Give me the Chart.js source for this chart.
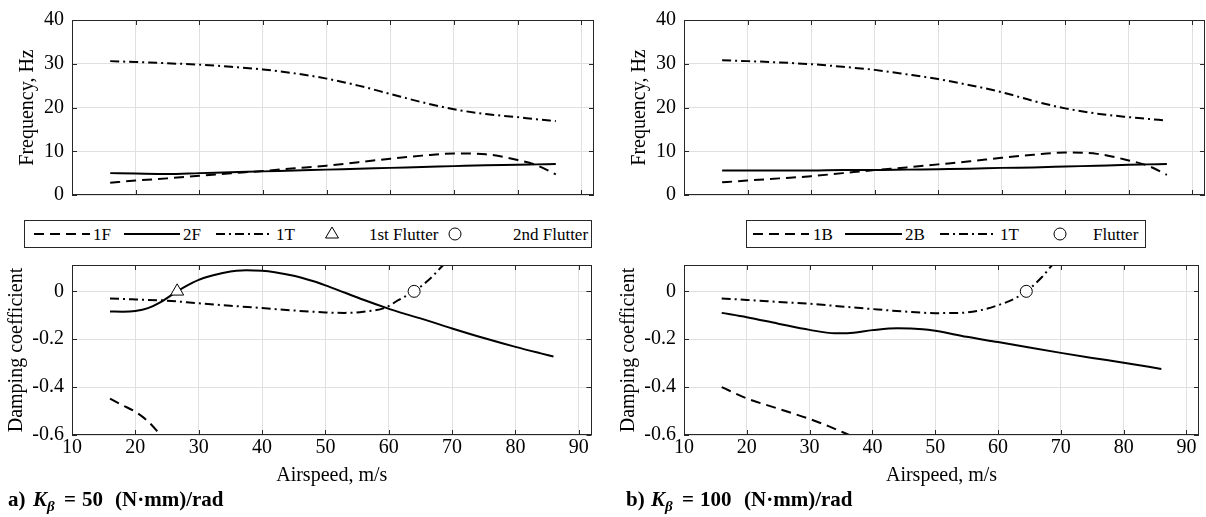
<!DOCTYPE html>
<html>
<head>
<meta charset="utf-8">
<script src="https://cdn.jsdelivr.net/npm/chart.js@4.4.1/dist/chart.umd.min.js"></script>
<style>
  body { margin: 0; background: #fff; width: 1206px; height: 517px; position: relative; overflow: hidden;
         font-family: 'Liberation Serif', 'Times New Roman', serif; color: #000; }
  canvas { position: absolute; }
  .legend { position: absolute; }
  .cap { position: absolute; top: 487px; font-size: 21px; line-height: 24px; font-weight: bold; white-space: pre; }
  .cap sub { font-size: 15px; }
</style>
</head>
<body>
<canvas id="freqA" width="600" height="215" style="left:0;top:0"></canvas>
<canvas id="dampA" width="600" height="245" style="left:0;top:245px"></canvas>
<canvas id="freqB" width="594" height="215" style="left:612px;top:0"></canvas>
<canvas id="dampB" width="594" height="245" style="left:612px;top:245px"></canvas>

<svg class="legend" style="left:24px;top:220px" width="568" height="28" font-family="'Liberation Serif', 'Times New Roman', serif">
  <rect x="0.5" y="0.5" width="567" height="27" fill="#fff" stroke="#262626"/>
  <line x1="10" y1="14" x2="66" y2="14" stroke="#000" stroke-width="2" stroke-dasharray="10,6"/>
  <text x="69" y="20" font-size="17">1F</text>
  <line x1="100" y1="14" x2="156" y2="14" stroke="#000" stroke-width="2"/>
  <text x="159" y="20" font-size="17">2F</text>
  <line x1="192" y1="14" x2="248" y2="14" stroke="#000" stroke-width="2" stroke-dasharray="9,4,2,4"/>
  <text x="252" y="20" font-size="17">1T</text>
  <polygon points="308,7 314.5,18 301.5,18" fill="#fff" stroke="#000"/>
  <text x="345" y="20" font-size="17">1st Flutter</text>
  <circle cx="431" cy="14" r="6" fill="#fff" stroke="#000"/>
  <text x="489" y="20" font-size="17">2nd Flutter</text>
</svg>

<svg class="legend" style="left:746px;top:220px" width="400" height="28" font-family="'Liberation Serif', 'Times New Roman', serif">
  <rect x="0.5" y="0.5" width="399" height="27" fill="#fff" stroke="#262626"/>
  <line x1="7" y1="14" x2="63" y2="14" stroke="#000" stroke-width="2" stroke-dasharray="10,6"/>
  <text x="67" y="20" font-size="17">1B</text>
  <line x1="99" y1="14" x2="156" y2="14" stroke="#000" stroke-width="2"/>
  <text x="159" y="20" font-size="17">2B</text>
  <line x1="194" y1="14" x2="250" y2="14" stroke="#000" stroke-width="2" stroke-dasharray="9,4,2,4"/>
  <text x="254" y="20" font-size="17">1T</text>
  <circle cx="314" cy="14" r="6" fill="#fff" stroke="#000"/>
  <text x="347" y="20" font-size="17">Flutter</text>
</svg>

<span class="cap" style="left:8px">a)</span>
<span class="cap" style="left:33px"><i>K<sub>β</sub></i></span>
<span class="cap" style="left:64px">=</span>
<span class="cap" style="left:82px">50</span>
<span class="cap" style="left:115px">(N·mm)/rad</span>

<span class="cap" style="left:626px">b)</span>
<span class="cap" style="left:651px"><i>K<sub>β</sub></i></span>
<span class="cap" style="left:682px">=</span>
<span class="cap" style="left:700px">100</span>
<span class="cap" style="left:744px">(N·mm)/rad</span>

<script>
// Tần số (Hz) theo vận tốc gió - trường hợp a) K = 50
var freqSpeed = [16, 20, 25, 30, 35, 40, 45, 50, 55, 60, 65, 70, 75, 80, 83, 86];
var freqA_1F = [2.8, 3.3, 3.8, 4.4, 4.95, 5.5, 6.1, 6.7, 7.5, 8.3, 9.0, 9.5, 9.3, 8.0, 6.8, 4.7];
var freqA_2F = [5.0, 4.9, 4.8, 5.0, 5.2, 5.4, 5.6, 5.8, 6.0, 6.2, 6.4, 6.6, 6.8, 6.9, 7.0, 7.1];
var freqA_1T = [30.6, 30.4, 30.1, 29.8, 29.3, 28.7, 27.8, 26.6, 25.0, 23.1, 21.2, 19.6, 18.5, 17.8, 17.3, 16.9];

// Tần số - trường hợp b) K = 100
var freqB_1B = [2.9, 3.3, 3.8, 4.3, 5.0, 5.7, 6.3, 7.0, 7.7, 8.5, 9.2, 9.7, 9.4, 7.9, 6.7, 4.6];
var freqB_2B = [5.6, 5.6, 5.6, 5.6, 5.7, 5.7, 5.8, 5.9, 6.0, 6.2, 6.3, 6.5, 6.7, 6.9, 7.0, 7.1];
var freqB_1T = [30.8, 30.6, 30.3, 29.9, 29.3, 28.6, 27.6, 26.5, 25.1, 23.5, 21.5, 19.8, 18.6, 17.8, 17.4, 17.0];

// Hệ số cản - trường hợp a)
var dampA_1F_x = [16, 18, 20, 22, 24];
var dampA_1F = [-0.448, -0.476, -0.503, -0.543, -0.6];
var dampA_2F_x = [16, 18, 20, 22, 24, 26.6, 28, 30, 32, 34, 37.5, 40, 42, 45, 48, 50, 53, 56, 59.5, 62, 65, 70, 75, 80, 84, 86];
var dampA_2F = [-0.084, -0.085, -0.082, -0.07, -0.045, 0, 0.022, 0.048, 0.065, 0.078, 0.088, 0.086, 0.08, 0.065, 0.043, 0.025, -0.005, -0.035, -0.068, -0.09, -0.113, -0.155, -0.195, -0.232, -0.259, -0.272];
var dampA_1T_x = [16, 20, 25, 30, 35, 40, 45, 50, 53, 56, 59.5, 61.5, 64, 66.2, 68.6];
var dampA_1T = [-0.03, -0.034, -0.039, -0.05, -0.06, -0.07, -0.08, -0.088, -0.09, -0.085, -0.068, -0.037, 0, 0.045, 0.11];
var flutterA1 = [26.6, 0];
var flutterA2 = [64.0, 0];

// Hệ số cản - trường hợp b)
var dampB_1B_x = [16, 20, 25, 30, 33, 36.3];
var dampB_1B = [-0.4, -0.447, -0.49, -0.533, -0.563, -0.6];
var dampB_2B_x = [16, 20, 25, 30, 34, 36, 40, 44, 48, 50, 55, 60, 65, 70, 75, 80, 86];
var dampB_2B = [-0.09, -0.108, -0.135, -0.161, -0.175, -0.175, -0.162, -0.154, -0.158, -0.165, -0.19, -0.212, -0.235, -0.257, -0.278, -0.298, -0.324];
var dampB_1T_x = [16, 20, 25, 30, 35, 40, 45, 50, 54, 57, 60, 62.5, 64.5, 67, 68.6];
var dampB_1T = [-0.03, -0.036, -0.044, -0.052, -0.063, -0.074, -0.084, -0.091, -0.09, -0.08, -0.058, -0.032, 0, 0.06, 0.11];
var flutterB = [64.5, 0];

// Vạch chia trục
var speedTicks = [10, 20, 30, 40, 50, 60, 70, 80, 90];
var freqTicks = [0, 10, 20, 30, 40];
var dampTicks = [-0.6, -0.4, -0.2, 0];

var DASHED = [10, 6];
var DASHDOT = [9, 4, 2, 4];
var GRID = '#e0e0e0';
var AXIS = '#262626';

Chart.defaults.font.family = "'Liberation Serif', 'Times New Roman', serif";
Chart.defaults.color = '#000';

function toPoints(xs, ys) {
    return xs.map((x, i) => ({ x: x, y: ys[i] }));
}

function lineSet(xs, ys, dash) {
    return {
        data: toPoints(xs, ys),
        borderColor: '#000',
        borderWidth: 2,
        borderDash: dash,
        pointRadius: 0,
        cubicInterpolationMode: 'monotone',
        fill: false
    };
}

// điểm flutter vẽ đè lên các đường (order nhỏ hơn => vẽ sau)
function markerSet(pt, style, radius) {
    return {
        type: 'scatter',
        order: -1,
        data: [{ x: pt[0], y: pt[1] }],
        pointStyle: style,
        pointRadius: radius,
        pointBackgroundColor: '#fff',
        pointBorderColor: '#000',
        pointBorderWidth: 1
    };
}

// khung trục + vạch chia hướng vào trong (kiểu MATLAB)
var boxTicks = {
    id: 'boxTicks',
    afterDatasetsDraw(chart) {
        var ctx = chart.ctx, a = chart.chartArea, sx = chart.scales.x, sy = chart.scales.y;
        ctx.save();
        ctx.strokeStyle = AXIS;
        ctx.lineWidth = 1;
        ctx.strokeRect(Math.round(a.left) + 0.5, Math.round(a.top) + 0.5,
            Math.round(a.right - a.left) - 1, Math.round(a.bottom - a.top) - 1);
        ctx.beginPath();
        sx.ticks.forEach(t => {
            var px = Math.round(sx.getPixelForValue(t.value)) + 0.5;
            ctx.moveTo(px, a.bottom); ctx.lineTo(px, a.bottom - 5);
            ctx.moveTo(px, a.top); ctx.lineTo(px, a.top + 5);
        });
        sy.ticks.forEach(t => {
            var py = Math.round(sy.getPixelForValue(t.value)) + 0.5;
            ctx.moveTo(a.left, py); ctx.lineTo(a.left + 5, py);
            ctx.moveTo(a.right, py); ctx.lineTo(a.right - 5, py);
        });
        ctx.stroke();
        ctx.restore();
    }
};

function makeChart(id, datasets, isFreq, padRight) {
    var yTitle = isFreq ? 'Frequency, Hz' : 'Damping coefficient';
    var yTicks = isFreq ? freqTicks : dampTicks;
    return new Chart(document.getElementById(id), {
        type: 'line',
        data: { datasets: datasets },
        options: {
            responsive: false,
            animation: false,
            layout: { padding: { top: isFreq ? 11 : 12, right: padRight, left: 0, bottom: 0 } },
            plugins: { legend: { display: false }, tooltip: { enabled: false } },
            scales: {
                x: {
                    type: 'linear', min: 10, max: 92,
                    border: { display: false },
                    grid: { color: GRID, drawTicks: false },
                    ticks: { display: !isFreq, padding: 1, font: { size: 20 } },
                    afterBuildTicks(scale) { scale.ticks = speedTicks.map(v => ({ value: v })); },
                    title: { display: !isFreq, text: 'Airspeed, m/s', font: { size: 20 }, padding: { top: 0, bottom: 2 } },
                    afterFit(scale) { scale.height = isFreq ? 16 : 55; }
                },
                y: {
                    min: isFreq ? 0 : -0.6,
                    max: isFreq ? 40 : 0.11,
                    border: { display: false },
                    grid: { color: GRID, drawTicks: false },
                    ticks: {
                        padding: 8, font: { size: 20 },
                        callback: v => isFreq ? String(v) : (Math.abs(v) < 1e-9 ? '0' : v.toFixed(1))
                    },
                    afterBuildTicks(scale) { scale.ticks = yTicks.map(v => ({ value: v })); },
                    title: { display: true, text: yTitle, font: { size: 20 }, padding: { top: isFreq ? 16 : 5, bottom: 0 } },
                    afterFit(scale) { scale.width = 72; }
                }
            }
        },
        plugins: [boxTicks]
    });
}

makeChart('freqA', [
    lineSet(freqSpeed, freqA_1F, DASHED),
    lineSet(freqSpeed, freqA_2F, []),
    lineSet(freqSpeed, freqA_1T, DASHDOT)
], true, 6);

makeChart('dampA', [
    lineSet(dampA_1F_x, dampA_1F, DASHED),
    lineSet(dampA_2F_x, dampA_2F, []),
    lineSet(dampA_1T_x, dampA_1T, DASHDOT),
    markerSet(flutterA1, 'triangle', 7.5),
    markerSet(flutterA2, 'circle', 6)
], false, 6);

makeChart('freqB', [
    lineSet(freqSpeed, freqB_1B, DASHED),
    lineSet(freqSpeed, freqB_2B, []),
    lineSet(freqSpeed, freqB_1T, DASHDOT)
], true, 1);

makeChart('dampB', [
    lineSet(dampB_1B_x, dampB_1B, DASHED),
    lineSet(dampB_2B_x, dampB_2B, []),
    lineSet(dampB_1T_x, dampB_1T, DASHDOT),
    markerSet(flutterB, 'circle', 6)
], false, 1);
</script>
</body>
</html>
